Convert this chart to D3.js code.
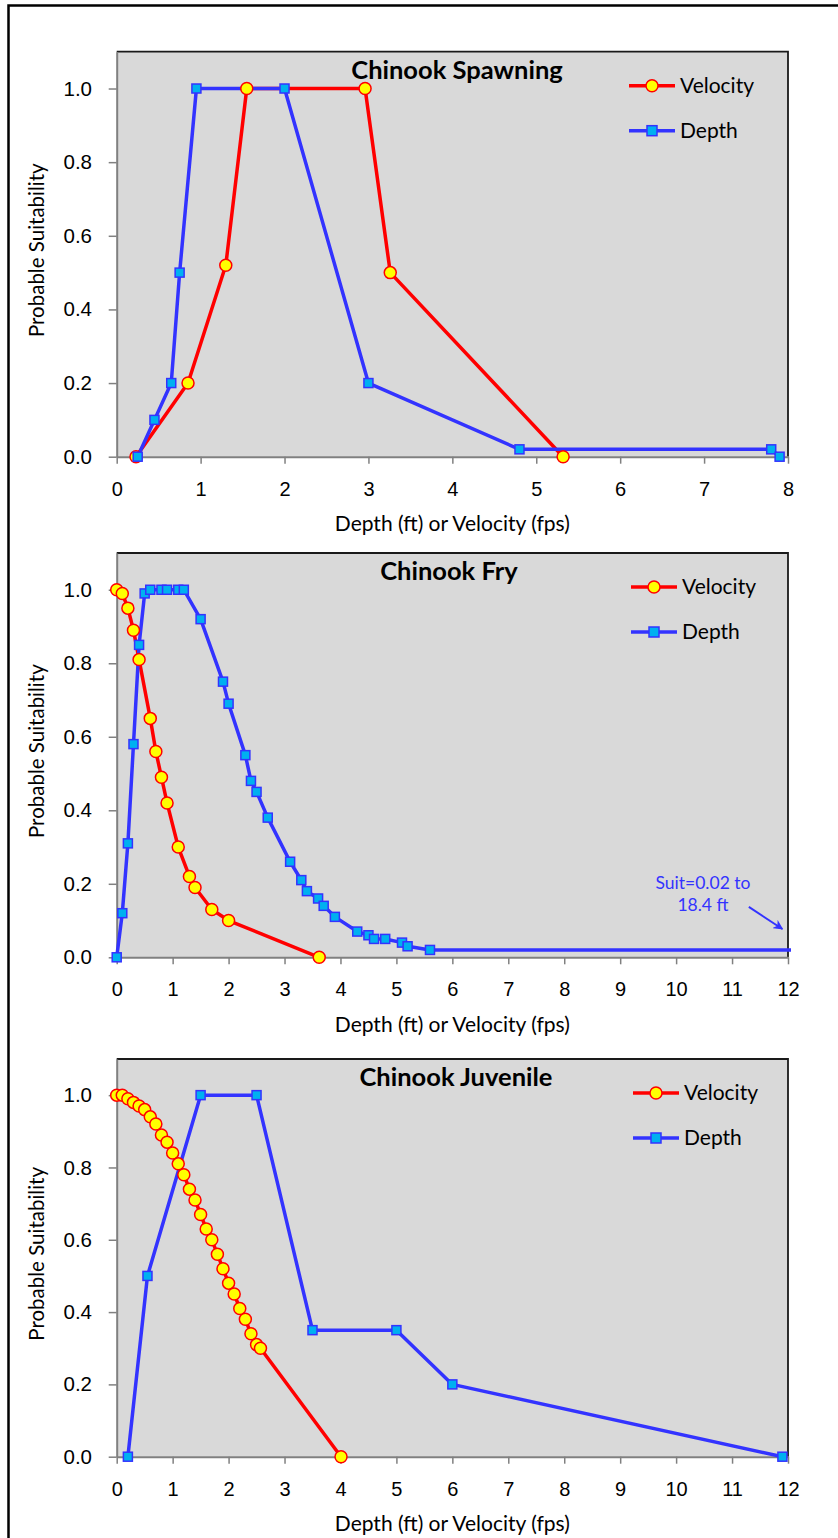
<!DOCTYPE html>
<html>
<head>
<meta charset="utf-8">
<script src="https://cdn.jsdelivr.net/npm/d3@7"></script>
<style>
    body { margin: 0; background: #fff; }
    svg { display: block; font-family: Lato, "Open Sans", sans-serif; }
</style>
</head>
<body>
<svg id="chart" width="838" height="1538"></svg>
<script>
// [depth or velocity, suitability]
const spawnVelocity = [[0.23, 0], [0.85, 0.2], [1.3, 0.52], [1.55, 1], [2.96, 1], [3.26, 0.5], [5.32, 0]]
const spawnDepth = [[0.25, 0], [0.45, 0.1], [0.65, 0.2], [0.75, 0.5], [0.95, 1], [2.0, 1], [3.0, 0.2],
    [4.8, 0.02], [7.8, 0.02], [7.9, 0]]

const fryVelocity = [[0, 1], [0.1, 0.99], [0.2, 0.95], [0.3, 0.89], [0.4, 0.81], [0.6, 0.65], [0.7, 0.56],
    [0.8, 0.49], [0.9, 0.42], [1.1, 0.3], [1.3, 0.22], [1.4, 0.19], [1.7, 0.13], [2.0, 0.1], [3.62, 0]]
const fryDepth = [[0, 0], [0.1, 0.12], [0.2, 0.31], [0.3, 0.58], [0.4, 0.85], [0.5, 0.99], [0.6, 1], [0.8, 1],
    [0.9, 1], [1.1, 1], [1.2, 1], [1.5, 0.92], [1.9, 0.75], [2.0, 0.69], [2.3, 0.55], [2.4, 0.48], [2.5, 0.45],
    [2.7, 0.38], [3.1, 0.26], [3.3, 0.21], [3.4, 0.18], [3.6, 0.16], [3.7, 0.14], [3.9, 0.11], [4.3, 0.07],
    [4.5, 0.06], [4.6, 0.05], [4.8, 0.05], [5.1, 0.04], [5.2, 0.03], [5.6, 0.02], [18.4, 0.02]]

const juvVelocity = [[0, 1], [0.1, 1], [0.2, 0.99], [0.3, 0.98], [0.4, 0.97], [0.5, 0.96], [0.6, 0.94],
    [0.7, 0.92], [0.8, 0.89], [0.9, 0.87], [1.0, 0.84], [1.1, 0.81], [1.2, 0.78], [1.3, 0.74], [1.4, 0.71],
    [1.5, 0.67], [1.6, 0.63], [1.7, 0.6], [1.8, 0.56], [1.9, 0.52], [2.0, 0.48], [2.1, 0.45], [2.2, 0.41],
    [2.3, 0.38], [2.4, 0.34], [2.5, 0.31], [2.57, 0.3], [4.01, 0]]
const juvDepth = [[0.2, 0], [0.55, 0.5], [1.5, 1], [2.5, 1], [3.5, 0.35], [5.0, 0.35], [6.0, 0.2], [11.9, 0]]

const yTicks = [0, 0.2, 0.4, 0.6, 0.8, 1.0]
const seriesNames = ['Velocity', 'Depth']
const xTitle = 'Depth (ft) or Velocity (fps)'
const yTitle = 'Probable Suitability'
const fryNote = ['Suit=0.02 to', '18.4 ft']

const RED = '#ff0000'
const BLUE = '#3333ff'
const YELLOW = '#ffff00'
const CYAN = '#00b0f0'
const GREY = '#808080'

const left = 116.7
const right = 788

const panels = [
    {title: 'Chinook Spawning', titleX: 457, xMax: 8, top: 51.7, bottom: 456.7, vel: spawnVelocity, dep: spawnDepth, legendX: 629},
    {title: 'Chinook Fry', titleX: 449, xMax: 12, top: 553, bottom: 957.3, vel: fryVelocity, dep: fryDepth, legendX: 631, note: true},
    {title: 'Chinook Juvenile', titleX: 456, xMax: 12, top: 1059, bottom: 1456.7, vel: juvVelocity, dep: juvDepth, legendX: 633}
]

const svg = d3.select('#chart')

svg.append('defs').append('marker')
    .attr('id', 'arrow')
    .attr('viewBox', '0 0 10 10')
    .attr('refX', 9).attr('refY', 5)
    .attr('markerWidth', 5).attr('markerHeight', 5)
    .attr('markerUnits', 'strokeWidth')
    .attr('orient', 'auto')
    .append('path')
        .attr('d', 'M0,0L10,5L0,10L3,5Z')
        .attr('fill', BLUE)

// outer frame (right and bottom edges run off the picture)
svg.append('rect')
    .attr('x', 8.5).attr('y', 5.5)
    .attr('width', 845).attr('height', 1545)
    .attr('fill', 'none')
    .attr('stroke', '#000')
    .attr('stroke-width', 2.5)

function drawCircles(g, data, x, y) {
    g.selectAll(null).data(data).enter()
        .append('circle')
            .attr('cx', (d) => x(d[0]))
            .attr('cy', (d) => y(d[1]))
            .attr('r', 6)
            .attr('fill', YELLOW)
            .attr('stroke', RED)
            .attr('stroke-width', 1.5)
}

function drawSquares(g, data, x, y) {
    g.selectAll(null).data(data).enter()
        .append('rect')
            .attr('x', (d) => x(d[0]) - 4.5)
            .attr('y', (d) => y(d[1]) - 4.5)
            .attr('width', 9)
            .attr('height', 9)
            .attr('fill', CYAN)
            .attr('stroke', BLUE)
            .attr('stroke-width', 1.5)
}

panels.forEach((p, i) => {
    const x = d3.scaleLinear().domain([0, p.xMax]).range([left, right])
    const y = d3.scaleLinear().domain([0, 1.1]).range([p.bottom, p.top])
    const g = svg.append('g')

    g.append('rect')
        .attr('x', left).attr('y', p.top)
        .attr('width', right - left).attr('height', p.bottom - p.top)
        .attr('fill', '#d9d9d9')

    g.append('path')
        .attr('d', `M${left},${p.top}H${right}V${p.bottom}`)
        .attr('fill', 'none')
        .attr('stroke', '#1a1a1a')
        .attr('stroke-width', 1.8)

    const xAxis = g.append('g')
        .attr('transform', `translate(0,${p.bottom})`)
        .call(d3.axisBottom(x).tickValues(d3.range(0, p.xMax + 1)).tickSize(7).tickSizeOuter(0))
    xAxis.selectAll('text')
        .attr('y', 32).attr('dy', '0.35em')
        .attr('font-size', 20)
        .attr('fill', '#000')

    const yAxis = g.append('g')
        .attr('transform', `translate(${left},0)`)
        .call(d3.axisLeft(y).tickValues(yTicks).tickFormat(d3.format('.1f')).tickSize(8).tickSizeOuter(0))
    yAxis.selectAll('text')
        .attr('x', -24.7)
        .attr('font-size', 20.5)
        .attr('fill', '#000')

    g.selectAll('.domain').attr('stroke', GREY).attr('stroke-width', 2)
    g.selectAll('.tick line').attr('stroke', GREY).attr('stroke-width', 1.5)

    g.append('text')
        .attr('x', (left + right) / 2)
        .attr('y', p.bottom + 67)
        .attr('dy', '0.35em')
        .attr('text-anchor', 'middle')
        .attr('font-size', 21)
        .text(xTitle)

    g.append('text')
        .attr('transform', `translate(37,${(p.top + p.bottom) / 2 - 4}) rotate(-90)`)
        .attr('dy', '0.35em')
        .attr('text-anchor', 'middle')
        .attr('font-size', 20.5)
        .text(yTitle)

    g.append('text')
        .attr('x', p.titleX)
        .attr('y', p.top + 27)
        .attr('text-anchor', 'middle')
        .attr('font-size', 25.5)
        .attr('font-weight', 'bold')
        .text(p.title)

    const clipId = `clip${i}`
    svg.append('clipPath').attr('id', clipId)
        .append('rect')
            .attr('x', left - 10).attr('y', p.top - 10)
            .attr('width', right - left + 13).attr('height', p.bottom - p.top + 20)

    const line = d3.line().x((d) => x(d[0])).y((d) => y(d[1]))

    g.append('path')
        .attr('d', line(p.vel))
        .attr('fill', 'none')
        .attr('stroke', RED)
        .attr('stroke-width', 3.5)
        .attr('stroke-linejoin', 'round')

    g.append('path')
        .attr('d', line(p.dep))
        .attr('clip-path', `url(#${clipId})`)
        .attr('fill', 'none')
        .attr('stroke', BLUE)
        .attr('stroke-width', 3.5)
        .attr('stroke-linejoin', 'round')

    drawCircles(g, p.vel, x, y)
    drawSquares(g, p.dep.filter((d) => d[0] <= p.xMax), x, y)

    // legend
    const legend = g.append('g').attr('transform', `translate(${p.legendX},${p.top + 34})`)
    seriesNames.forEach((name, k) => {
        const row = legend.append('g').attr('transform', `translate(0,${k * 45})`)
        row.append('line')
            .attr('x1', 0).attr('x2', 46)
            .attr('stroke', k === 0 ? RED : BLUE)
            .attr('stroke-width', 3.5)
        if (k === 0) {
            row.append('circle').attr('cx', 23).attr('r', 6)
                .attr('fill', YELLOW).attr('stroke', RED).attr('stroke-width', 1.5)
        } else {
            row.append('rect').attr('x', 18).attr('y', -5).attr('width', 10).attr('height', 10)
                .attr('fill', CYAN).attr('stroke', BLUE).attr('stroke-width', 1.5)
        }
        row.append('text')
            .attr('x', 51)
            .attr('dy', '0.35em')
            .attr('font-size', 21)
            .text(name)
    })

    if (p.note) {
        fryNote.forEach((t, k) => {
            g.append('text')
                .attr('x', x(10.48))
                .attr('y', y(0.203) + k * 22)
                .attr('dy', '0.35em')
                .attr('text-anchor', 'middle')
                .attr('font-size', 17.5)
                .attr('fill', BLUE)
                .text(t)
        })
        g.append('line')
            .attr('x1', x(11.3)).attr('y1', y(0.137))
            .attr('x2', x(11.9)).attr('y2', y(0.077))
            .attr('stroke', BLUE)
            .attr('stroke-width', 2)
            .attr('marker-end', 'url(#arrow)')
    }
})
</script>
</body>
</html>
